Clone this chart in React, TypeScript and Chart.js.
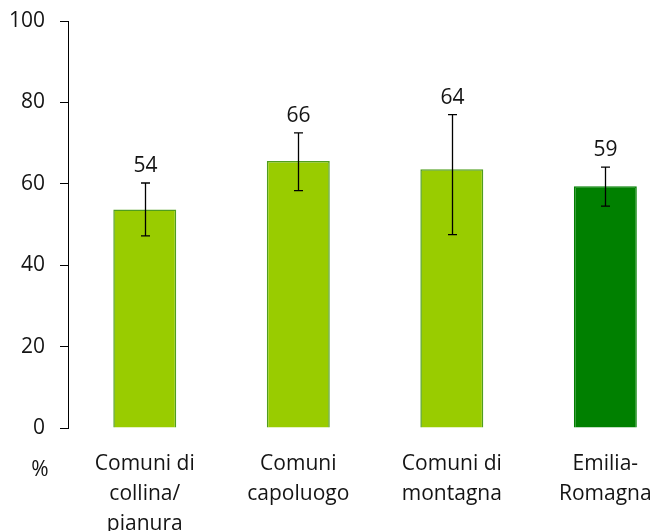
import React, { useEffect, useRef } from "react";
import { Chart, registerables } from "chart.js";

Chart.register(...registerables);

const categories: string[][] = [
  ["Comuni di", "collina/", "pianura"],
  ["Comuni", "capoluogo"],
  ["Comuni di", "montagna"],
  ["Emilia-", "Romagna"],
];
const values = [53.7, 65.6, 63.6, 59.4];
const errLow = [47.2, 58.3, 47.5, 54.5];
const errHigh = [60.2, 72.5, 77.0, 64.1];
const valueLabels = ["54", "66", "64", "59"];
const barColors = ["#99cc00", "#99cc00", "#99cc00", "#008000"];
const barBorders = ["#4f9e1e", "#4f9e1e", "#4f9e1e", "#008000"];
const yTicks = [0, 20, 40, 60, 80, 100];
const unitLabel = "%";

const FONT = "'Open Sans', 'DejaVu Sans', sans-serif";
const TEXT = "#141414";

const overlayPlugin = {
  id: "overlay",
  afterDatasetsDraw(chart: any) {
    const ctx = chart.ctx;
    const x = chart.scales.x;
    const y = chart.scales.y;
    ctx.save();
    ctx.strokeStyle = "#000";
    ctx.lineWidth = 1.3;
    values.forEach((_, i) => {
      const px = Math.round(x.getPixelForValue(i)) + 0.5;
      const top = y.getPixelForValue(errHigh[i]);
      const bot = y.getPixelForValue(errLow[i]);
      ctx.beginPath();
      ctx.moveTo(px, top);
      ctx.lineTo(px, bot);
      ctx.moveTo(px - 4.5, top);
      ctx.lineTo(px + 4.5, top);
      ctx.moveTo(px - 4.5, bot);
      ctx.lineTo(px + 4.5, bot);
      ctx.stroke();
      ctx.fillStyle = TEXT;
      ctx.font = `21px ${FONT}`;
      ctx.textAlign = "center";
      ctx.textBaseline = "alphabetic";
      ctx.fillText(valueLabels[i], px, top - 11);
    });
    ctx.fillStyle = TEXT;
    ctx.font = `21px ${FONT}`;
    ctx.textAlign = "center";
    ctx.textBaseline = "middle";
    ctx.fillText(unitLabel, chart.chartArea.left - 28, chart.chartArea.bottom + 42);
    ctx.restore();
  },
};

export default function App() {
  const ref = useRef<HTMLCanvasElement | null>(null);
  useEffect(() => {
    document.body.style.margin = "0";
    const canvas = ref.current;
    if (!canvas) return;
    const chart = new Chart(canvas, {
      type: "bar",
      data: {
        datasets: [
          {
            data: values.map((v, i) => ({ x: i, y: v })),
            backgroundColor: barColors,
            borderColor: barBorders,
            borderWidth: 1.5,
            barPercentage: 0.41,
            categoryPercentage: 1,
          },
        ],
      },
      options: {
        responsive: false,
        animation: false,
        layout: { padding: { top: 21, left: 0, right: 0, bottom: 0 } },
        plugins: { legend: { display: false }, tooltip: { enabled: false } },
        scales: {
          x: {
            type: "linear",
            offset: false,
            min: -0.5,
            max: 3.33,
            grid: { display: false, offset: false },
            border: { display: false },
            afterBuildTicks: (s: any) => {
              s.ticks = categories.map((_, i) => ({ value: i }));
            },
            afterFit: (s: any) => {
              s.height = 103;
              s.paddingLeft = 0;
              s.paddingRight = 0;
            },
            ticks: {
              autoSkip: false,
              maxRotation: 0,
              minRotation: 0,
              padding: 13,
              color: TEXT,
              font: { family: FONT, size: 21, lineHeight: 1.43 },
              callback: (v: any) => categories[Math.round(Number(v))] ?? "",
            },
          },
          y: {
            min: 0,
            max: 100,
            afterBuildTicks: (s: any) => {
              s.ticks = yTicks.map((v) => ({ value: v }));
            },
            afterFit: (s: any) => {
              s.width = 68;
              s.paddingTop = 0;
              s.paddingBottom = 0;
            },
            grid: {
              drawOnChartArea: false,
              drawTicks: true,
              tickLength: 8,
              color: "#000",
              lineWidth: 1,
            },
            border: { display: true, color: "#000", width: 1 },
            ticks: {
              padding: 15,
              color: TEXT,
              font: { family: FONT, size: 21 },
            },
          },
        },
      },
      plugins: [overlayPlugin],
    } as any);
    return () => chart.destroy();
  }, []);
  return (
    <div style={{ position: "fixed", left: 0, top: 0, width: 656, height: 531 }}>
      <canvas ref={ref} width={656} height={531} />
    </div>
  );
}
